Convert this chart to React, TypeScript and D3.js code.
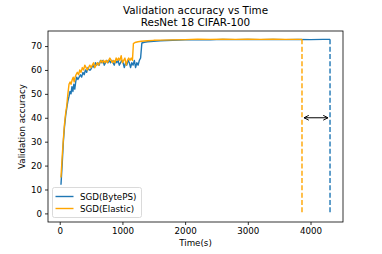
import { useEffect, useRef } from "react";
import * as d3 from "d3";

// time (s) and validation accuracy (%)
const bytepsTime = [20, 40, 58, 75, 95, 112, 130, 148, 164, 180, 195, 210, 225, 240, 255, 270, 290, 310, 330, 350, 370, 390, 410, 430, 450, 470, 490, 510, 530, 550, 570, 590, 610, 630, 650, 670, 690, 710, 730, 750, 770, 790, 810, 830, 850, 870, 890, 910, 930, 950, 970, 990, 1010, 1030, 1050, 1070, 1090, 1110, 1130, 1150, 1170, 1190, 1210, 1230, 1250, 1270, 1290, 1310, 1350, 1400, 1500, 1600, 1700, 1800, 1900, 2000, 2200, 2400, 2600, 2800, 3000, 3200, 3400, 3600, 3800, 4000, 4200, 4311];
const bytepsAcc = [12, 21, 30, 36, 41, 44, 47, 49, 51, 50, 53, 51, 54, 52, 55, 57, 56, 57, 58, 57, 59, 58, 60, 59, 61, 60, 60, 61, 62, 61, 63, 62, 63, 62, 64, 63, 64, 62, 63, 64, 63, 64, 63, 64, 63, 62, 64, 63, 64, 62, 63, 64, 63, 61, 63, 62, 64, 63, 61, 63, 62, 64, 61, 63, 62, 64, 65, 71.3, 71.6, 71.8, 72.0, 72.2, 72.3, 72.4, 72.5, 72.6, 72.7, 72.6, 72.8, 72.7, 72.8, 72.7, 72.8, 72.7, 72.8, 72.7, 72.8, 72.8];

const elasticTime = [20, 40, 58, 75, 95, 112, 130, 148, 165, 180, 200, 215, 230, 245, 260, 280, 300, 320, 340, 360, 380, 400, 420, 440, 460, 480, 500, 520, 540, 560, 580, 600, 620, 640, 660, 680, 700, 720, 740, 760, 780, 800, 820, 840, 860, 880, 900, 920, 940, 960, 980, 1000, 1020, 1040, 1060, 1080, 1100, 1120, 1140, 1160, 1175, 1200, 1250, 1300, 1400, 1500, 1600, 1800, 2000, 2200, 2400, 2600, 2800, 3000, 3200, 3400, 3600, 3864];
const elasticAcc = [15, 24, 31, 37, 42, 45, 50, 54, 55, 54, 56, 57, 55, 57, 58, 59, 58, 60, 59, 61, 60, 62, 61, 60, 61, 62, 61, 62, 63, 61, 62, 63, 62, 63, 64, 63, 64, 63, 64, 63, 64, 65, 64, 63, 64, 63, 65, 64, 65, 64, 66, 63, 64, 65, 62, 64, 65, 64, 65, 64, 71.0, 71.5, 71.8, 72.0, 72.2, 72.4, 72.5, 72.6, 72.7, 72.9, 72.8, 72.9, 72.8, 72.9, 72.8, 72.9, 72.8, 72.8];

const xTicks = [0, 1000, 2000, 3000, 4000];
const yTicks = [0, 10, 20, 30, 40, 50, 60, 70];
const seriesNames = ["SGD(BytePS)", "SGD(Elastic)"];
const seriesColors = ["#1f77b4", "#ffa500"];
const arrowAcc = 40;

const FONT = "DejaVu Sans, sans-serif";

export default function App() {
  const svgRef = useRef<SVGSVGElement | null>(null);

  useEffect(() => {
    if (!svgRef.current) return;
    const svg = d3.select(svgRef.current);
    svg.selectAll("*").remove();

    const margin = { top: 31, right: 39, bottom: 32, left: 48 };
    const width = 382;
    const height = 254;

    const x = d3.scaleLinear().domain([-187, 4518]).range([margin.left, width - margin.right]);
    const y = d3.scaleLinear().domain([-3.6, 76.3]).range([height - margin.bottom, margin.top]);

    const defs = svg.append("defs");
    defs.append("marker")
      .attr("id", "ah")
      .attr("viewBox", "0 0 10 10")
      .attr("refX", 9)
      .attr("refY", 5)
      .attr("markerWidth", 6)
      .attr("markerHeight", 6)
      .attr("markerUnits", "userSpaceOnUse")
      .attr("orient", "auto-start-reverse")
      .append("path")
      .attr("d", "M1,1 L9,5 L1,9")
      .attr("fill", "none")
      .attr("stroke", "#000")
      .attr("stroke-width", 1.6);

    const series = [
      bytepsTime.map((t, i) => [t, bytepsAcc[i]] as [number, number]),
      elasticTime.map((t, i) => [t, elasticAcc[i]] as [number, number]),
    ];

    const line = d3.line<[number, number]>().x(d => x(d[0])).y(d => y(d[1]));

    series.forEach((s, i) => {
      svg.append("path")
        .datum(s)
        .attr("d", line)
        .attr("fill", "none")
        .attr("stroke", seriesColors[i])
        .attr("stroke-width", 1.4)
        .attr("stroke-linejoin", "round");
    });

    // dashed end markers
    series.forEach((s, i) => {
      const last = s[s.length - 1];
      svg.append("line")
        .attr("x1", x(last[0]))
        .attr("x2", x(last[0]))
        .attr("y1", y(last[1]))
        .attr("y2", y(0))
        .attr("stroke", seriesColors[i])
        .attr("stroke-width", 1.4)
        .attr("stroke-dasharray", "5,2.3");
    });

    // double arrow between the finishing times
    const tE = elasticTime[elasticTime.length - 1];
    const tB = bytepsTime[bytepsTime.length - 1];
    svg.append("line")
      .attr("x1", x(tE) + 2)
      .attr("x2", x(tB) - 2)
      .attr("y1", y(arrowAcc))
      .attr("y2", y(arrowAcc))
      .attr("stroke", "#000")
      .attr("stroke-width", 1)
      .attr("marker-start", "url(#ah)")
      .attr("marker-end", "url(#ah)");

    // axes
    const xAxis = svg.append("g")
      .attr("transform", `translate(0,${height - margin.bottom})`)
      .call(d3.axisBottom(x).tickValues(xTicks).tickSize(3).tickPadding(3).tickFormat(d3.format("d")));
    const yAxis = svg.append("g")
      .attr("transform", `translate(${margin.left},0)`)
      .call(d3.axisLeft(y).tickValues(yTicks).tickSize(3).tickPadding(3).tickFormat(d3.format("d")));
    [xAxis, yAxis].forEach(g => {
      g.select(".domain").remove();
      g.selectAll("text").attr("font-family", FONT).attr("font-size", 8.7).attr("fill", "#000");
      g.selectAll("line").attr("stroke-width", 0.8);
    });

    svg.append("rect")
      .attr("x", margin.left)
      .attr("y", margin.top)
      .attr("width", width - margin.left - margin.right)
      .attr("height", height - margin.top - margin.bottom)
      .attr("fill", "none")
      .attr("stroke", "#000")
      .attr("stroke-width", 0.8);

    // titles
    const cx = (margin.left + width - margin.right) / 2;
    const title = svg.append("text")
      .attr("text-anchor", "middle")
      .attr("font-family", FONT)
      .attr("font-size", 10.4);
    title.append("tspan").attr("x", cx).attr("y", 13.5).text("Validation accuracy vs Time");
    title.append("tspan").attr("x", cx).attr("y", 25.5).text("ResNet 18 CIFAR-100");

    svg.append("text")
      .attr("x", cx)
      .attr("y", 246)
      .attr("text-anchor", "middle")
      .attr("font-family", FONT)
      .attr("font-size", 8.7)
      .text("Time(s)");

    svg.append("text")
      .attr("transform", `translate(24.5,${(margin.top + height - margin.bottom) / 2}) rotate(-90)`)
      .attr("text-anchor", "middle")
      .attr("font-family", FONT)
      .attr("font-size", 8.7)
      .text("Validation accuracy");

    // legend
    const lg = svg.append("g").attr("transform", "translate(52.5,187.5)");
    lg.append("rect")
      .attr("width", 89)
      .attr("height", 30)
      .attr("rx", 2)
      .attr("fill", "#fff")
      .attr("fill-opacity", 0.8)
      .attr("stroke", "#d0d0d0")
      .attr("stroke-width", 0.8);
    seriesNames.forEach((name, i) => {
      const yy = 9 + i * 12;
      lg.append("line")
        .attr("x1", 3)
        .attr("x2", 21)
        .attr("y1", yy)
        .attr("y2", yy)
        .attr("stroke", seriesColors[i])
        .attr("stroke-width", 1.4);
      lg.append("text")
        .attr("x", 27.5)
        .attr("y", yy)
        .attr("dy", "0.35em")
        .attr("font-family", FONT)
        .attr("font-size", 8.7)
        .text(name);
    });
  }, []);

  return (
    <svg
      ref={svgRef}
      width={382}
      height={254}
      style={{ position: "absolute", left: 0, top: 0, background: "#fff" }}
    />
  );
}
